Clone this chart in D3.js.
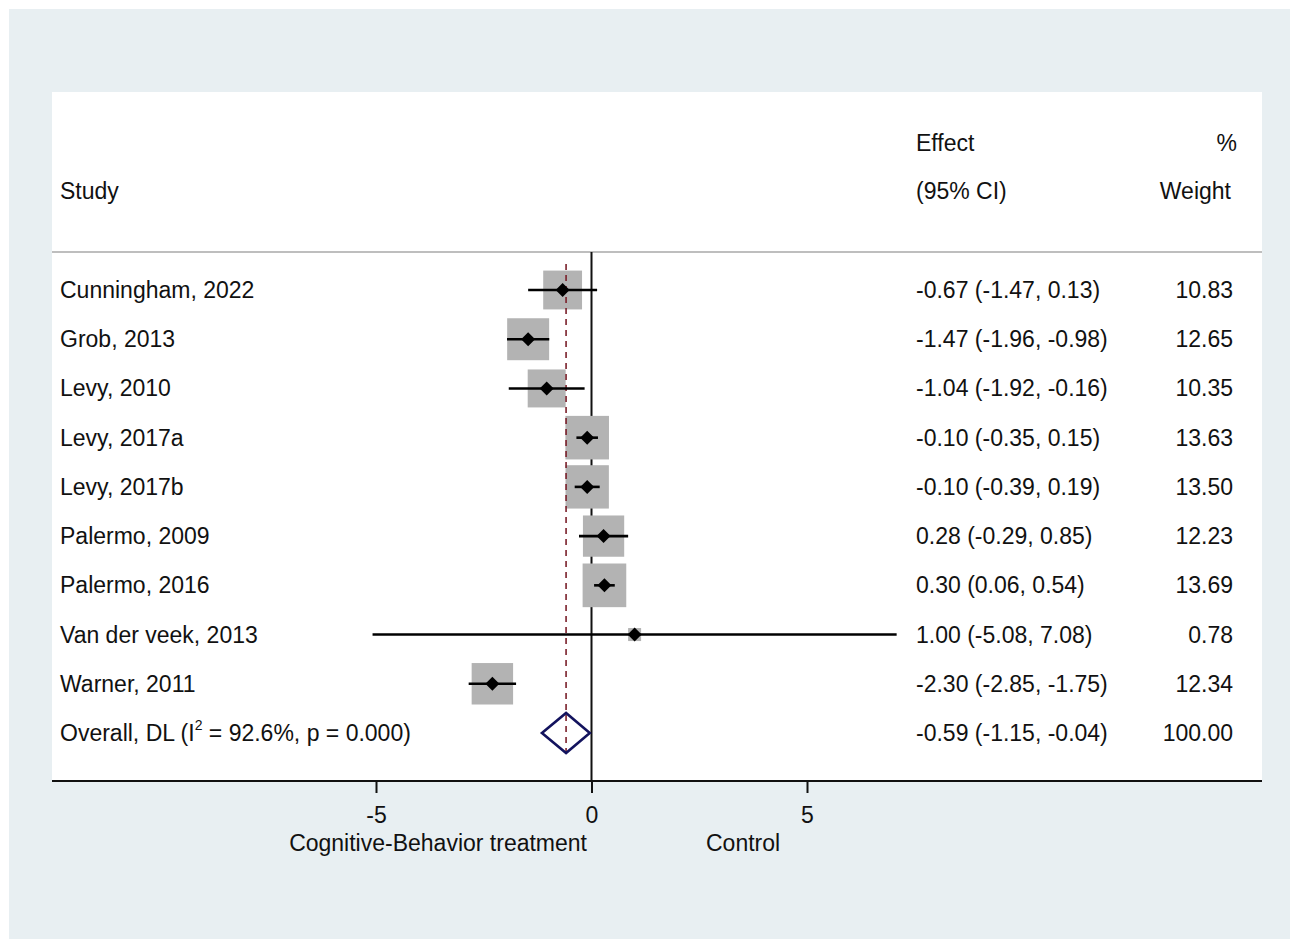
<!DOCTYPE html>
<html>
<head>
<meta charset="utf-8">
<script src="https://cdn.jsdelivr.net/npm/d3@7"></script>
<style>
  html, body { margin: 0; background: #fff; overflow: hidden; }
  svg { display: block; }
  svg text { font-family: "Liberation Sans", Arial, sans-serif; fill: #111; }
</style>
</head>
<body>
<div class="canvas"></div>
<script>
const studies = [
  "Cunningham, 2022", "Grob, 2013", "Levy, 2010", "Levy, 2017a", "Levy, 2017b",
  "Palermo, 2009", "Palermo, 2016", "Van der veek, 2013", "Warner, 2011"
];
const effects = [-0.67, -1.47, -1.04, -0.10, -0.10, 0.28, 0.30, 1.00, -2.30];
const lower = [-1.47, -1.96, -1.92, -0.35, -0.39, -0.29, 0.06, -5.08, -2.85];
const upper = [0.13, -0.98, -0.16, 0.15, 0.19, 0.85, 0.54, 7.08, -1.75];
const weights = [10.83, 12.65, 10.35, 13.63, 13.50, 12.23, 13.69, 0.78, 12.34];
const overall = { effect: -0.59, lower: -1.15, upper: -0.04, weight: 100.0 };
const xTicks = [-5, 0, 5];

const width = 1290;
const height = 939;
const panel = { left: 52, top: 92, right: 1262, bottom: 781 };

const svg = d3.select(".canvas").append("svg")
  .attr("width", width).attr("height", height);

svg.append("rect").attr("x", 9).attr("y", 9)
  .attr("width", width - 9).attr("height", height - 9)
  .attr("fill", "#e8eff2");
svg.append("rect").attr("x", panel.left).attr("y", panel.top)
  .attr("width", panel.right - panel.left).attr("height", panel.bottom - panel.top)
  .attr("fill", "#fff");

const x = d3.scaleLinear().domain([-5, 5]).range([376, 807]);
const rows = studies.concat(["overall"]);
const y = d3.scalePoint().domain(rows).range([290, 733]);
const boxSide = d3.scaleSqrt().domain([0, 1]).range([0, 11.8]);
const side = (w) => Math.max(boxSide(w), 13);

const fs = 23;
const colEffect = 916;
const colWeight = 1233;

// header
svg.append("text").attr("x", 60).attr("y", 191).attr("dy", "0.35em")
  .style("font-size", fs + "px").text("Study");
svg.append("text").attr("x", colEffect).attr("y", 143).attr("dy", "0.35em")
  .style("font-size", fs + "px").text("Effect");
svg.append("text").attr("x", colEffect).attr("y", 191).attr("dy", "0.35em")
  .style("font-size", fs + "px").text("(95% CI)");
svg.append("text").attr("x", 1237).attr("y", 143).attr("dy", "0.35em")
  .attr("text-anchor", "end").style("font-size", fs + "px").text("%");
svg.append("text").attr("x", 1231).attr("y", 191).attr("dy", "0.35em")
  .attr("text-anchor", "end").style("font-size", fs + "px").text("Weight");

svg.append("line").attr("x1", panel.left).attr("x2", panel.right)
  .attr("y1", 252).attr("y2", 252)
  .attr("stroke", "#a8a8a8").attr("stroke-width", 1.5);

// null line
svg.append("line").attr("x1", x(0)).attr("x2", x(0))
  .attr("y1", 252).attr("y2", panel.bottom)
  .attr("stroke", "#111").attr("stroke-width", 2);

const data = studies.map((s, i) => ({
  study: s, effect: effects[i], lower: lower[i], upper: upper[i], weight: weights[i]
}));

// boxes
svg.selectAll(".box").data(data).enter().append("rect")
  .attr("class", "box")
  .attr("x", (d) => x(d.effect) - side(d.weight) / 2)
  .attr("y", (d) => y(d.study) - side(d.weight) / 2)
  .attr("width", (d) => side(d.weight))
  .attr("height", (d) => side(d.weight))
  .attr("fill", "#b3b3b3");

// overall dashed line
svg.append("line").attr("x1", x(overall.effect)).attr("x2", x(overall.effect))
  .attr("y1", 264).attr("y2", 756)
  .attr("stroke", "#7a1f2a").attr("stroke-width", 1.6)
  .attr("stroke-dasharray", "6,5");

// CI lines
svg.selectAll(".ci").data(data).enter().append("line")
  .attr("class", "ci")
  .attr("x1", (d) => x(d.lower)).attr("x2", (d) => x(d.upper))
  .attr("y1", (d) => y(d.study)).attr("y2", (d) => y(d.study))
  .attr("stroke", "#000").attr("stroke-width", 2.6);

// point markers
svg.selectAll(".pt").data(data).enter().append("path")
  .attr("class", "pt")
  .attr("transform", (d) => `translate(${x(d.effect)}, ${y(d.study)})`)
  .attr("d", "M0,-7L7,0L0,7L-7,0Z")
  .attr("fill", "#000");

// overall diamond
const oy = y("overall");
svg.append("path")
  .attr("d", `M${x(overall.lower)},${oy}L${x(overall.effect)},${oy - 20}L${x(overall.upper)},${oy}L${x(overall.effect)},${oy + 20}Z`)
  .attr("fill", "none").attr("stroke", "#13135e").attr("stroke-width", 2.6);

// labels
svg.selectAll(".lab").data(data).enter().append("text")
  .attr("x", 60).attr("y", (d) => y(d.study)).attr("dy", "0.35em")
  .style("font-size", fs + "px").text((d) => d.study);

const f2 = d3.format(".2f");
const minus = (s) => s.replace(/\u2212/g, "-");
svg.selectAll(".eff").data(data).enter().append("text")
  .attr("x", colEffect).attr("y", (d) => y(d.study)).attr("dy", "0.35em")
  .style("font-size", fs + "px")
  .text((d) => minus(`${f2(d.effect)} (${f2(d.lower)}, ${f2(d.upper)})`));
svg.selectAll(".wt").data(data).enter().append("text")
  .attr("x", colWeight).attr("y", (d) => y(d.study)).attr("dy", "0.35em")
  .attr("text-anchor", "end").style("font-size", fs + "px")
  .text((d) => f2(d.weight));

const ol = svg.append("text").attr("x", 60).attr("y", oy + 8)
  .style("font-size", fs + "px");
ol.append("tspan").text("Overall, DL (I");
ol.append("tspan").attr("dy", -11).style("font-size", "14px").text("2");
ol.append("tspan").attr("dy", 11).text(" = 92.6%, p = 0.000)");

svg.append("text").attr("x", colEffect).attr("y", oy).attr("dy", "0.35em")
  .style("font-size", fs + "px")
  .text(minus(`${f2(overall.effect)} (${f2(overall.lower)}, ${f2(overall.upper)})`));
svg.append("text").attr("x", colWeight).attr("y", oy).attr("dy", "0.35em")
  .attr("text-anchor", "end").style("font-size", fs + "px")
  .text(f2(overall.weight));

// x axis
svg.append("line").attr("x1", panel.left).attr("x2", panel.right)
  .attr("y1", panel.bottom).attr("y2", panel.bottom)
  .attr("stroke", "#111").attr("stroke-width", 2.2);

const axis = d3.axisBottom(x).tickValues(xTicks).tickSize(12).tickPadding(14)
  .tickFormat(d3.format("d"));
const ax = svg.append("g").attr("transform", `translate(0, ${panel.bottom})`).call(axis);
ax.select(".domain").remove();
ax.selectAll(".tick line").attr("stroke", "#111").attr("stroke-width", 2);
ax.selectAll(".tick text").style("font-size", fs + "px").attr("fill", "#111")
  .text((d) => minus(d3.format("d")(d)));

svg.append("text").attr("x", 587).attr("y", 843).attr("dy", "0.35em")
  .attr("text-anchor", "end").style("font-size", fs + "px")
  .text("Cognitive-Behavior treatment");
svg.append("text").attr("x", 706).attr("y", 843).attr("dy", "0.35em")
  .style("font-size", fs + "px").text("Control");
</script>
</body>
</html>
